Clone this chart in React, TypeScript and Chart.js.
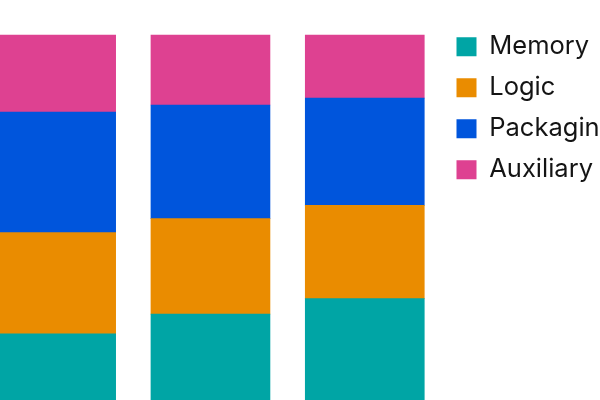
import React, { useEffect, useRef } from "react";
import { Chart, registerables } from "chart.js";

Chart.register(...registerables);

// Categories (their axis lies outside the visible crop)
const categories = ["Period 1", "Period 2", "Period 3"];

// Shares (%) per category, stacked bottom to top
const memory = [25.3, 30.2, 34.1];
const logic = [25.3, 23.9, 23.3];
const packaging = [30.1, 28.4, 26.8];
const auxiliary = [19.3, 17.5, 15.8];

const seriesNames = ["Memory", "Logic", "Packaging", "Auxiliary"];
const seriesColors = ["#00A5A5", "#EA8C00", "#0055DC", "#DE4191"];

export default function App() {
  const ref = useRef<HTMLCanvasElement>(null);

  useEffect(() => {
    const series = [memory, logic, packaging, auxiliary];
    const chart = new Chart(ref.current!, {
      type: "bar",
      data: {
        labels: categories,
        datasets: series.map((vals, s) => ({
          label: seriesNames[s],
          data: vals.map((v, i) => ({ x: i, y: v })),
          backgroundColor: seriesColors[s],
          borderColor: seriesColors[s],
          borderWidth: 0,
          barThickness: 119,
        })),
      },
      options: {
        responsive: false,
        animation: false,
        layout: { padding: { top: 18.5, left: 0, right: 0, bottom: 0 } },
        scales: {
          x: {
            type: "linear",
            display: false,
            stacked: true,
            min: -0.5,
            max: 2.494,
            offset: false,
          },
          y: { display: false, stacked: true, min: 0, max: 104.125 },
        },
        plugins: {
          legend: {
            position: "right",
            align: "start",
            maxWidth: 170,
            labels: {
              boxWidth: 20,
              boxHeight: 19,
              padding: 15.5,
              color: "#141414",
              font: { family: "Inter", size: 25.5 },
            },
          },
          tooltip: { enabled: false },
        },
      },
    });
    return () => chart.destroy();
  }, []);

  return (
    <div
      style={{
        position: "fixed",
        left: 0,
        top: 0,
        width: 600,
        height: 400,
        overflow: "hidden",
        background: "#ffffff",
      }}
    >
      <canvas
        ref={ref}
        width={632}
        height={435}
        style={{ position: "absolute", left: -21, top: 0 }}
      />
    </div>
  );
}
